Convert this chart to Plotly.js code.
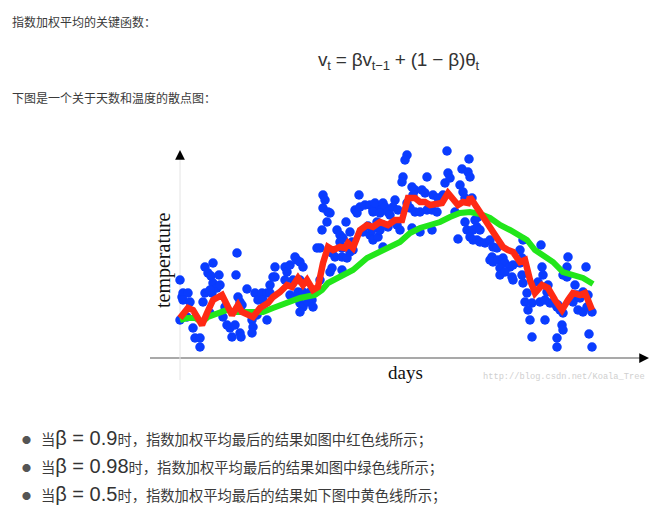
<!DOCTYPE html>
<html><head><meta charset="utf-8">
<script src="https://cdn.plot.ly/plotly-3.0.1.min.js"></script>
<style>
body{margin:0;background:#fff;width:651px;height:519px;overflow:hidden;position:relative;font-family:"Noto Sans CJK SC","Noto Sans",sans-serif;color:#3a3a3a;}
#chart{position:absolute;left:0;top:0;width:651px;height:519px;z-index:1;}
.t{position:absolute;white-space:nowrap;z-index:2;}
.p{font-size:12px;line-height:16px;left:12px;}
.f{font-family:"Liberation Sans","DejaVu Sans",sans-serif;font-size:19px;line-height:24px;left:318px;top:48px;color:#333;letter-spacing:-0.2px;}
.f sub{font-size:13px;vertical-align:-4px;line-height:0;}
.b{font-size:14.3px;line-height:24px;left:22px;}
.b .dot{display:inline-block;width:19px;font-size:9px;color:#555;vertical-align:2px;}
.b .m{font-family:"Liberation Sans","DejaVu Sans",sans-serif;font-size:20px;color:#333;}
</style></head>
<body>
<div id="chart"></div>
<div class="t p" style="top:14px;">指数加权平均的关键函数：</div>
<div class="t f">v<sub>t</sub> = βv<sub>t−1</sub> + (1 − β)θ<sub>t</sub></div>
<div class="t p" style="top:90px;">下图是一个关于天数和温度的散点图：</div>
<div class="t b" style="top:426px;"><span class="dot">●</span>当<span class="m">β = 0.9</span>时，指数加权平均最后的结果如图中红色线所示；</div>
<div class="t b" style="top:454px;"><span class="dot">●</span>当<span class="m">β = 0.98</span>时，指数加权平均最后的结果如图中绿色线所示；</div>
<div class="t b" style="top:482px;"><span class="dot">●</span>当<span class="m">β = 0.5</span>时，指数加权平均最后的结果如下图中黄色线所示；</div>
<script>
// scatter: day index and temperature (arbitrary units)
const days = [0,2,3,8,3,10,7,0,13,15,20,20,23,25,25,28,31,33,32,33,37,30,40,39,30,43,45,47,50,52,55,57,56,57,58,60,62,60,61,67,72,73,72,75,77,78,82,83,87,87,90,93,95,95,90,105,107,110,105,113,115,117,120,123,120,110,115,118,123,130,132,120,123,120,128,133,140,137,140,142,147,143,148,150,143,145,157,160,163,160,162,152,155,162,167,152,150,162,166,170,172,173,170,175,177,179,180,185,190,193,197,183,190,193,198,188,195,203,205,193,200,208,210,215,213,218,197,200,192,203,208,217,220,203,227,225,223,222,232,235,233,242,245,247,227,230,235,240,247,252,257,253,258,263,265,267,268,270,240,252,232,282,288,289,290,280,283,285,292,275,285,278,287,293,297,295,298,300,290,293,297,300,305,310,313,317,312,310,313,318,323,325,330,333,340,342,340,320,320,325,332,333,342,343,343,347,345,352,360,365,370,348,350,365,352,358,368,367,361,362,363,377,380,383,382,383,377,377,388,387,383,387,406,395,403,408,393,397,400,398,403,407,412,409,412,373,378];
const temps = [78,61,65,65,58,56,41,38,30,20,20,11,56,65,91,85,82,95,65,75,70,68,73,83,45,41,51,33,30,21,33,105,83,48,61,56,53,25,21,69,38,31,25,65,43,58,65,58,65,38,73,81,91,81,65,91,86,93,78,78,101,98,96,91,78,63,60,66,66,66,58,55,51,46,56,51,78,110,110,128,136,150,146,145,163,158,128,123,120,116,110,105,101,101,100,90,86,88,136,126,116,108,106,148,145,163,151,153,153,148,151,126,123,118,121,132,155,155,151,146,145,146,143,158,151,148,136,128,128,133,131,133,128,111,203,198,181,176,171,168,163,168,165,181,155,150,146,146,148,148,146,163,160,163,175,207,185,180,126,128,130,189,186,199,181,173,166,160,160,146,136,119,128,128,131,138,141,128,121,118,118,116,115,118,111,110,101,98,96,98,100,95,91,93,95,100,108,90,83,86,81,78,83,118,75,65,56,55,56,58,55,48,38,38,21,76,73,66,113,91,83,51,48,45,33,28,20,11,101,91,83,81,91,73,66,63,56,63,60,48,46,51,46,24,11,55,53];
// red line, beta = 0.9
const redDays = [0,8,13,22,27,33,42,48,52,58,62,73,80,88,93,100,107,112,118,123,127,133,138,143,148,153,160,165,168,173,180,187,193,200,208,215,222,228,235,240,245,250,257,262,268,273,278,283,288,290,295,300,307,310,317,323,328,333,340,345,350,355,362,368,375,382,388,393,400,405,408,412];
const redTemps = [40,50,48,33,45,58,63,51,43,53,46,41,50,55,61,66,73,71,80,73,78,68,71,95,111,108,111,110,115,110,128,133,131,136,133,138,138,160,160,156,156,153,155,155,165,160,153,156,155,161,153,145,136,130,118,111,108,106,96,98,78,65,73,70,58,48,58,65,63,65,58,48];
// green line, beta = 0.98
const greenDays = [0,7,15,22,28,37,47,55,62,73,83,93,107,120,135,142,148,160,173,187,200,210,220,230,240,250,260,270,280,290,300,310,320,330,340,347,355,363,373,383,393,403,413];
const greenTemps = [38,40,40,36,41,45,48,46,46,45,46,50,55,60,63,68,75,81,88,100,106,111,116,125,130,133,136,141,145,146,144,140,133,128,123,118,108,103,96,86,83,80,74];

const traces = [
  {x:days,y:temps,type:'scatter',mode:'markers',marker:{color:'#0a3cff',size:9.5},hoverinfo:'skip'},
  {x:greenDays,y:greenTemps,type:'scatter',mode:'lines',line:{color:'#22e61a',width:6},hoverinfo:'skip'},
  {x:redDays,y:redTemps,type:'scatter',mode:'lines',line:{color:'#ff2a14',width:6.5},hoverinfo:'skip'}
];
const ax = {showgrid:false,zeroline:false,showticklabels:false,ticks:'',showline:false,fixedrange:true};
const layout = {
  width:651,height:519,
  margin:{l:150,r:1,t:140,b:134,pad:0},
  paper_bgcolor:'rgba(0,0,0,0)',plot_bgcolor:'rgba(0,0,0,0)',
  showlegend:false,
  xaxis:Object.assign({range:[-30,470]},ax),
  yaxis:Object.assign({range:[-27,218]},ax),
  shapes:[
    {type:'line',xref:'x',yref:'y',x0:-30,x1:462,y0:0,y1:0,line:{color:'#8c8c8c',width:1.5},layer:'below'},
    {type:'line',xref:'x',yref:'y',x0:0,x1:0,y0:-22,y1:200,line:{color:'#e4e4e4',width:1},layer:'below'}
  ],
  annotations:[
    {x:469,y:0,ax:459,ay:0,xref:'x',yref:'y',axref:'x',ayref:'y',text:'',showarrow:true,arrowhead:2,arrowsize:1.3,arrowwidth:1.5,arrowcolor:'#000'},
    {x:0,y:208,ax:0,ay:200,xref:'x',yref:'y',axref:'x',ayref:'y',text:'',showarrow:true,arrowhead:2,arrowsize:1.3,arrowwidth:1.5,arrowcolor:'#000'},
    {x:-17,y:98,xref:'x',yref:'y',text:'temperature',showarrow:false,textangle:-90,font:{family:'Liberation Serif, DejaVu Serif, serif',size:20,color:'#111'}},
    {x:225,y:-14,xref:'x',yref:'y',text:'days',showarrow:false,font:{family:'Liberation Serif, DejaVu Serif, serif',size:19,color:'#111'}},
    {x:384,y:-19,xref:'x',yref:'y',text:'http://blog.csdn.net/Koala_Tree',showarrow:false,font:{family:'Liberation Mono, DejaVu Sans Mono, monospace',size:8.7,color:'#cfcfcf'}}
  ]
};
Plotly.newPlot('chart',traces,layout,{staticPlot:true,displayModeBar:false});
</script>
</body></html>
